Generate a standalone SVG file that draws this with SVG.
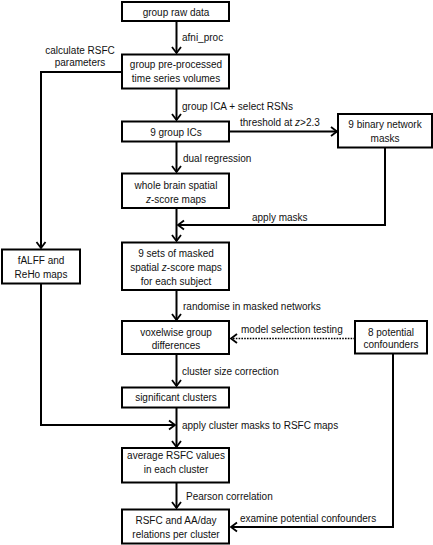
<svg xmlns="http://www.w3.org/2000/svg" width="433" height="545" viewBox="0 0 433 545">
<defs>
<style>
.box{fill:#fff;stroke:#000;stroke-width:2}
.t{font-family:"Liberation Sans",Arial,sans-serif;font-size:10px;fill:#111}
.c{text-anchor:middle}
.ln{fill:none;stroke:#000;stroke-width:2}
.dot{fill:none;stroke:#000;stroke-width:1.6;stroke-dasharray:1.6 1.2}
</style>
<marker id="ah" markerUnits="userSpaceOnUse" markerWidth="12" markerHeight="12" refX="0" refY="0" viewBox="-8 -6 10 12" orient="auto">
<path d="M-6,-4.5 L0,0 L-6,4.5" fill="none" stroke="#000" stroke-width="1.8"/>
</marker>
</defs>
<rect width="433" height="545" fill="#fff"/>
<g id="connectors">
<line class="ln" x1="176.5" y1="21" x2="176.5" y2="53" marker-end="url(#ah)"/>
<line class="ln" x1="176.5" y1="88" x2="176.5" y2="120" marker-end="url(#ah)"/>
<line class="ln" x1="176.5" y1="141" x2="176.5" y2="172" marker-end="url(#ah)"/>
<line class="ln" x1="176.5" y1="208" x2="176.5" y2="241" marker-end="url(#ah)"/>
<line class="ln" x1="176.5" y1="290" x2="176.5" y2="320" marker-end="url(#ah)"/>
<line class="ln" x1="176.5" y1="354" x2="176.5" y2="386" marker-end="url(#ah)"/>
<line class="ln" x1="176.5" y1="408" x2="176.5" y2="447" marker-end="url(#ah)"/>
<line class="ln" x1="176.5" y1="483" x2="176.5" y2="508" marker-end="url(#ah)"/>
<line class="ln" x1="229" y1="131.5" x2="337" y2="131.5" marker-end="url(#ah)"/>
<polyline class="ln" points="385,148 385,225 178,225" marker-end="url(#ah)"/>
<polyline class="ln" points="122,72 41,72 41,248" marker-end="url(#ah)"/>
<polyline class="ln" points="41,283 41,425 175,425" marker-end="url(#ah)"/>
<line class="dot" x1="355" y1="338.5" x2="231" y2="338.5" marker-end="url(#ah)"/>
<polyline class="ln" points="393,353 393,527 231,527" marker-end="url(#ah)"/>
</g>
<g class="t">
<text x="182" y="41">afni_proc</text>
<text x="80" y="54" class="c">calculate RSFC</text>
<text x="80" y="66" class="c">parameters</text>
<text x="182" y="110">group ICA + select RSNs</text>
<text x="240" y="126">threshold at <tspan font-style="italic">z</tspan>&gt;2.3</text>
<text x="183" y="162">dual regression</text>
<text x="252" y="221">apply masks</text>
<text x="183" y="310">randomise in masked networks</text>
<text x="241" y="333">model selection testing</text>
<text x="182" y="375">cluster size correction</text>
<text x="182" y="429">apply cluster masks to RSFC maps</text>
<text x="186" y="500">Pearson correlation</text>
<text x="240" y="522">examine potential confounders</text>
</g>
<g id="n1"><rect class="box" x="122" y="2" width="107" height="19"/><text class="t c" x="176" y="15.5">group raw data</text></g>
<g id="n2"><rect class="box" x="122" y="54.5" width="107" height="34"/><text class="t c" x="176" y="68">group pre-processed</text><text class="t c" x="176" y="82">time series volumes</text></g>
<g id="n3"><rect class="box" x="122" y="121.5" width="107" height="20"/><text class="t c" x="176" y="135.5">9 group ICs</text></g>
<g id="n4"><rect class="box" x="338" y="114" width="94" height="33.5"/><text class="t c" x="385" y="128">9 binary network</text><text class="t c" x="385" y="141.5">masks</text></g>
<g id="n5"><rect class="box" x="122" y="173.5" width="107" height="34.5"/><text class="t c" x="176" y="189">whole brain spatial</text><text class="t c" x="176" y="203"><tspan font-style="italic">z</tspan>-score maps</text></g>
<g id="n6"><rect class="box" x="122" y="242.5" width="107" height="47.5"/><text class="t c" x="176" y="257">9 sets of masked</text><text class="t c" x="176" y="271">spatial <tspan font-style="italic">z</tspan>-score maps</text><text class="t c" x="176" y="284.5">for each subject</text></g>
<g id="n7"><rect class="box" x="2" y="249.5" width="78" height="34"/><text class="t c" x="41" y="264">fALFF and</text><text class="t c" x="41" y="277.5">ReHo maps</text></g>
<g id="n8"><rect class="box" x="122" y="321" width="107" height="33"/><text class="t c" x="176" y="335.5">voxelwise group</text><text class="t c" x="176" y="348.5">differences</text></g>
<g id="n9"><rect class="box" x="355" y="321" width="72" height="32.5"/><text class="t c" x="391" y="335.5">8 potential</text><text class="t c" x="391" y="348">confounders</text></g>
<g id="n10"><rect class="box" x="122" y="387.5" width="107" height="20"/><text class="t c" x="176" y="401">significant clusters</text></g>
<g id="n11"><rect class="box" x="122" y="448" width="107" height="34.5"/><text class="t c" x="176" y="459">average RSFC values</text><text class="t c" x="176" y="472.5">in each cluster</text></g>
<g id="n12"><rect class="box" x="122" y="509.5" width="107" height="34"/><text class="t c" x="176" y="524">RSFC and AA/day</text><text class="t c" x="176" y="538">relations per cluster</text></g>
</svg>
